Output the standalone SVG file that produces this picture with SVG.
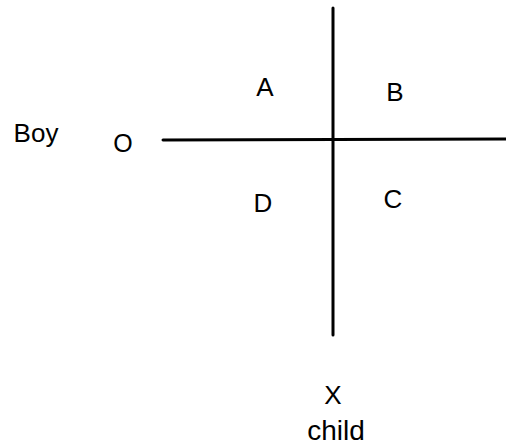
<svg xmlns="http://www.w3.org/2000/svg" width="506" height="448" viewBox="0 0 506 448">
<style>
.t{font-family:"Liberation Sans","DejaVu Sans",sans-serif;fill:#000;font-size:26px;text-anchor:middle}
.ax{stroke:#000;stroke-width:3;stroke-linecap:round;fill:none}
</style>
<rect width="506" height="448" fill="#fff"/>
<g id="axes">
<line class="ax" x1="333" y1="8" x2="333" y2="335"/>
<line class="ax" x1="163" y1="140" x2="506" y2="139"/>
</g>
<g id="quadA"><text class="t" x="265" y="96">A</text></g>
<g id="quadB"><text class="t" x="395" y="101">B</text></g>
<g id="quadD"><text class="t" x="263" y="212">D</text></g>
<g id="quadC"><text class="t" x="393" y="208">C</text></g>
<g id="boy"><text class="t" x="36" y="142">Boy</text><text class="t" x="123" y="152" style="font-size:25px">O</text></g>
<g id="child"><text class="t" x="333" y="404">X</text><text class="t" x="336" y="440" style="font-size:28px">child</text></g>
</svg>
